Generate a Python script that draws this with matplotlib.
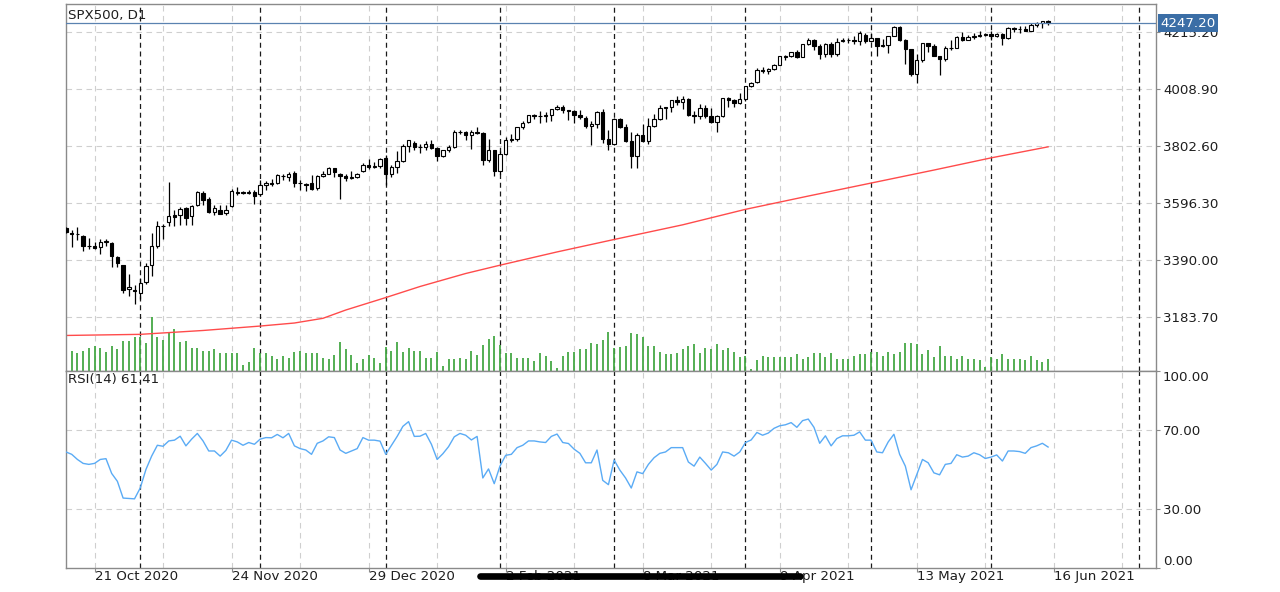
import numpy as np
import matplotlib
matplotlib.use("Agg")
import matplotlib.pyplot as plt
from matplotlib.lines import Line2D
from matplotlib.transforms import blended_transform_factory

# SPX500 daily bars, 14 Oct 2020 .. 15 Jun 2021 (broker feed, holidays included)
opens = [
    3506, 3487, 3486, 3479, 3441, 3441, 3438, 3457, 3453, 3402,
    3374, 3286, 3282, 3270, 3310, 3371, 3441, 3512, 3527, 3552,
    3555, 3579, 3549, 3588, 3633, 3612, 3566, 3570, 3562, 3586,
    3638, 3635, 3632, 3636, 3628, 3663, 3669, 3670, 3694, 3690,
    3705, 3668, 3666, 3670, 3650, 3695, 3702, 3722, 3702, 3695,
    3688, 3690, 3712, 3735, 3728, 3732, 3758, 3700, 3727, 3748,
    3804, 3815, 3800, 3801, 3810, 3796, 3768, 3787, 3800, 3852,
    3853, 3842, 3855, 3850, 3751, 3787, 3714, 3774, 3826, 3830,
    3872, 3890, 3916, 3911, 3910, 3916, 3935, 3945, 3933, 3931,
    3914, 3905, 3877, 3881, 3925, 3829, 3811, 3902, 3870, 3820,
    3768, 3842, 3821, 3875, 3899, 3939, 3943, 3969, 3963, 3974,
    3915, 3913, 3941, 3911, 3889, 3910, 3975, 3971, 3959, 3973,
    4020, 4034, 4078, 4074, 4080, 4097, 4126, 4128, 4142, 4125,
    4170, 4185, 4163, 4135, 4173, 4135, 4182, 4188, 4187, 4183,
    4205, 4181, 4193, 4165, 4168, 4202, 4233, 4188, 4152, 4063,
    4113, 4174, 4163, 4128, 4116, 4159, 4158, 4197, 4188, 4196,
    4201, 4204, 4207, 4202, 4208, 4193, 4230, 4227, 4227, 4220,
    4239, 4248, 4255,
]
highs = [
    3510, 3501, 3510, 3481, 3471, 3455, 3465, 3467, 3455, 3405,
    3374, 3342, 3302, 3326, 3380, 3489, 3531, 3522, 3673, 3573,
    3583, 3582, 3590, 3640, 3640, 3620, 3591, 3590, 3588, 3648,
    3655, 3639, 3645, 3644, 3679, 3675, 3682, 3701, 3702, 3708,
    3713, 3680, 3670, 3698, 3697, 3712, 3726, 3725, 3705, 3700,
    3712, 3704, 3740, 3757, 3744, 3760, 3770, 3735, 3784, 3811,
    3826, 3820, 3811, 3820, 3823, 3800, 3790, 3805, 3860, 3862,
    3857, 3860, 3870, 3852, 3830, 3788, 3784, 3836, 3848, 3873,
    3894, 3916, 3918, 3931, 3925, 3937, 3950, 3950, 3934, 3932,
    3932, 3910, 3895, 3928, 3935, 3862, 3905, 3906, 3882, 3853,
    3851, 3882, 3903, 3918, 3950, 3945, 3970, 3982, 3983, 3978,
    3930, 3956, 3950, 3942, 3915, 3978, 3981, 3973, 3995, 4021,
    4035, 4084, 4087, 4084, 4099, 4130, 4131, 4142, 4151, 4173,
    4192, 4190, 4170, 4175, 4180, 4195, 4194, 4193, 4201, 4218,
    4212, 4210, 4195, 4189, 4202, 4238, 4237, 4190, 4155, 4135,
    4176, 4177, 4172, 4130, 4164, 4188, 4200, 4214, 4203, 4213,
    4219, 4210, 4218, 4213, 4210, 4233, 4232, 4236, 4238, 4249,
    4250, 4256, 4258,
]
lows = [
    3489, 3438, 3462, 3422, 3429, 3431, 3414, 3440, 3366, 3366,
    3270, 3260, 3233, 3250, 3305, 3332, 3435, 3465, 3513, 3513,
    3519, 3519, 3519, 3586, 3591, 3560, 3555, 3558, 3555, 3584,
    3626, 3628, 3628, 3592, 3622, 3645, 3660, 3665, 3680, 3675,
    3655, 3645, 3640, 3645, 3645, 3690, 3700, 3690, 3610, 3676,
    3685, 3688, 3710, 3720, 3725, 3725, 3663, 3690, 3705, 3745,
    3783, 3790, 3776, 3790, 3792, 3750, 3765, 3780, 3796, 3845,
    3825, 3792, 3845, 3734, 3745, 3694, 3700, 3772, 3818, 3822,
    3866, 3885, 3900, 3885, 3890, 3895, 3932, 3923, 3898, 3885,
    3900, 3867, 3805, 3868, 3815, 3789, 3808, 3868, 3818, 3723,
    3724, 3818, 3812, 3870, 3897, 3900, 3925, 3950, 3935, 3913,
    3885, 3900, 3905, 3885, 3853, 3907, 3943, 3943, 3955, 3965,
    4018, 4030, 4068, 4064, 4077, 4095, 4114, 4124, 4120, 4124,
    4168, 4150, 4118, 4125, 4126, 4130, 4178, 4176, 4172, 4168,
    4175, 4178, 4128, 4160, 4141, 4200, 4183, 4100, 4056, 4030,
    4108, 4142, 4127, 4060, 4112, 4150, 4156, 4183, 4186, 4190,
    4197, 4199, 4187, 4196, 4167, 4190, 4215, 4210, 4218, 4218,
    4235, 4230, 4240,
]
closes = [
    3491, 3486, 3485, 3441, 3440, 3436, 3456, 3459, 3404, 3380,
    3284, 3292, 3278, 3308, 3368, 3443, 3515, 3513, 3551, 3548,
    3576, 3543, 3585, 3636, 3609, 3563, 3578, 3558, 3572, 3640,
    3633, 3632, 3638, 3624, 3663, 3669, 3667, 3699, 3693, 3702,
    3670, 3668, 3663, 3648, 3695, 3701, 3722, 3709, 3695, 3687,
    3690, 3703, 3735, 3727, 3732, 3756, 3701, 3727, 3748, 3804,
    3825, 3800, 3801, 3810, 3796, 3768, 3787, 3799, 3852, 3853,
    3841, 3855, 3850, 3751, 3787, 3714, 3774, 3826, 3830, 3872,
    3887, 3916, 3911, 3910, 3916, 3935, 3945, 3933, 3931, 3914,
    3907, 3877, 3881, 3925, 3829, 3811, 3902, 3870, 3820, 3768,
    3842, 3821, 3875, 3899, 3939, 3943, 3969, 3963, 3974, 3915,
    3913, 3941, 3911, 3889, 3910, 3975, 3971, 3959, 3973, 4020,
    4031, 4078, 4074, 4080, 4097, 4129, 4128, 4142, 4125, 4170,
    4185, 4163, 4135, 4173, 4135, 4180, 4188, 4187, 4183, 4211,
    4181, 4193, 4165, 4168, 4202, 4233, 4188, 4152, 4063, 4113,
    4174, 4163, 4128, 4116, 4159, 4156, 4197, 4188, 4196, 4201,
    4204, 4207, 4202, 4208, 4193, 4230, 4227, 4227, 4220, 4239,
    4248, 4255, 4247.2,
]
# tick volume (relative units)
volume = [
    60, 61, 53, 61, 69, 75, 70, 57, 75, 66,
    91, 91, 103, 101, 83, 161, 101, 93, 113, 125,
    87, 91, 70, 70, 61, 61, 65, 53, 53, 53,
    53, 18, 27, 70, 53, 53, 44, 36, 44, 40,
    58, 61, 53, 53, 53, 38, 36, 49, 87, 65,
    49, 23, 36, 49, 40, 23, 73, 61, 87, 57,
    70, 61, 61, 40, 40, 57, 14, 36, 36, 40,
    36, 61, 49, 79, 95, 105, 79, 53, 53, 40,
    40, 40, 31, 53, 44, 31, 10, 44, 58, 58,
    66, 66, 84, 80, 92, 118, 70, 72, 76, 114,
    110, 101, 76, 76, 58, 50, 50, 54, 66, 76,
    80, 54, 70, 66, 80, 62, 70, 58, 41, 45,
    6, 32, 46, 41, 41, 41, 41, 41, 50, 37,
    41, 54, 54, 41, 54, 37, 37, 37, 46, 50,
    50, 58, 58, 46, 58, 50, 58, 84, 84, 80,
    50, 62, 41, 76, 45, 45, 37, 45, 37, 37,
    32, 11, 41, 37, 50, 37, 37, 37, 32, 45,
    32, 28, 37,
]
rsi = [
    58.9, 57.7, 55.1, 53.1, 52.6, 53.1, 55.1, 55.5, 48.0, 44.0,
    35.5, 35.3, 35.1, 40.6, 50.0, 56.8, 62.3, 61.8, 64.5, 64.9,
    66.9, 62.0, 65.4, 68.3, 64.5, 59.4, 59.4, 56.8, 59.7, 64.9,
    64.0, 62.3, 63.7, 62.8, 65.4, 66.2, 66.1, 67.8, 66.1, 68.3,
    62.0, 60.6, 59.9, 57.7, 63.3, 64.5, 66.6, 66.2, 59.9, 58.2,
    59.4, 60.6, 66.2, 64.9, 64.9, 64.4, 57.7, 62.3, 66.8, 71.9,
    74.3, 66.8, 66.9, 68.3, 62.8, 55.1, 58.0, 61.6, 66.6, 68.3,
    67.4, 65.0, 66.8, 45.7, 50.3, 42.8, 51.7, 57.2, 57.7, 61.1,
    62.3, 64.5, 64.5, 64.0, 63.7, 66.8, 68.0, 63.7, 63.2, 60.3,
    58.2, 53.4, 53.4, 59.9, 44.5, 42.3, 54.8, 49.7, 45.7, 40.6,
    48.8, 47.9, 52.6, 56.0, 58.2, 58.9, 61.1, 61.1, 61.1, 53.8,
    51.7, 56.3, 53.1, 49.7, 52.6, 58.9, 58.5, 56.8, 58.9, 63.7,
    65.0, 68.8, 67.4, 68.5, 70.9, 72.2, 72.7, 73.8, 71.4, 74.8,
    75.6, 71.4, 63.3, 67.1, 62.0, 65.7, 67.1, 67.1, 67.4, 69.1,
    64.9, 64.9, 58.9, 58.5, 64.0, 67.9, 57.7, 51.7, 39.7, 47.4,
    55.1, 53.4, 48.3, 47.3, 52.6, 53.1, 57.5, 56.3, 56.8, 58.5,
    57.5, 55.6, 56.3, 57.4, 54.3, 59.4, 59.4, 59.1, 58.2, 61.1,
    62.0, 63.3, 61.41,
]
# moving average (red line), read at these bar numbers
ma_bar = [0, 13, 24, 34, 40, 45, 49, 56, 62, 70, 76, 86, 96, 108, 119, 130, 141, 152, 162, 172]
ma_val = [3118, 3122, 3136, 3152, 3163, 3180, 3210, 3255, 3295, 3342, 3372, 3420, 3465, 3518,
          3574, 3622, 3669, 3716, 3760, 3800]

price_ticks = [3183.70, 3390.00, 3596.30, 3802.60, 4008.90, 4215.20]
last_price = 4247.20
rsi_last = 61.41
date_bars = [5, 29, 53, 77, 101, 125, 149, 173]
date_labels = ["21 Oct 2020", "24 Nov 2020", "29 Dec 2020", "2 Feb 2021",
               "8 Mar 2021", "9 Apr 2021", "13 May 2021", "16 Jun 2021"]
grid_bars = list(range(5, 190, 12))
month_starts = [13, 34, 56, 76, 96, 119, 141, 162, 188]

W, H = 1280, 592
left, right = 66, 1156
main_top, split, rsi_bot = 4, 371, 568

fig = plt.figure(figsize=(W / 100, H / 100), dpi=100)
ax = fig.add_axes([left / W, 1 - split / H, (right - left) / W, (split - main_top) / H])
ax_rsi = fig.add_axes([left / W, 1 - rsi_bot / H, (right - left) / W, (rsi_bot - split) / H],
                      sharex=ax)

txt = "#1e1e1e"
frame = "#8a8a8a"
grid_c = "#cfcfcf"
fs = 9.6

bars = np.arange(len(closes))
o = np.array(opens, dtype=float)
c = np.array(closes, dtype=float)

for a in (ax, ax_rsi):
    for gb in grid_bars:
        a.axvline(gb, color=grid_c, lw=0.8, ls=(0, (5, 4)), zorder=0)
    for ms in month_starts:
        a.axvline(ms, color="#1a1a1a", lw=0.9, ls=(0, (4, 3)), zorder=1)
    for s in a.spines.values():
        s.set_color(frame)
        s.set_linewidth(1.0)

for pt in price_ticks:
    ax.axhline(pt, color=grid_c, lw=0.8, ls=(0, (5, 4)), zorder=0)
for lv in (30, 70):
    ax_rsi.axhline(lv, color=grid_c, lw=0.8, ls=(0, (5, 4)), zorder=0)

# volume at the foot of the price panel
ax.vlines(bars, 0, np.array(volume) / 1101.0, transform=ax.get_xaxis_transform(),
          color="#45a845", lw=1.3, zorder=1)

# moving average
ax.plot(ma_bar, ma_val, color="#ff4b4b", lw=1.0, zorder=2)

# candles
ax.vlines(bars, lows, highs, color="black", lw=0.9, zorder=3)
up = c >= o
ax.bar(bars, c - o, bottom=o, width=0.6, color=np.where(up, "white", "black"),
       edgecolor="black", linewidth=0.8, zorder=4)

ax.axhline(last_price, color="#5a82b0", lw=0.9, zorder=5)

ax.set_xlim(0.0, 190.9)
ax.set_ylim(2989.5, 4316.4)
ax.yaxis.tick_right()
ax.set_yticks(price_ticks, [f"{p:.2f}" for p in price_ticks])
ax.tick_params(axis="y", length=3, color=frame, labelsize=fs, labelcolor=txt, pad=2)
ax.tick_params(axis="x", bottom=False, labelbottom=False)

trans = blended_transform_factory(ax.transAxes, ax.transData)
ax.text(1.0 + 4 / (right - left), last_price, f"{last_price:.2f}", transform=trans,
        ha="left", va="center", color="white", fontsize=fs, zorder=6,
        bbox=dict(boxstyle="square,pad=0.18", fc="#3b6ea6", ec="none"))
ax.text(2 / (right - left), 1 - 11 / (split - main_top), "SPX500, D1", transform=ax.transAxes,
        ha="left", va="center", color=txt, fontsize=fs)

# RSI panel
ax_rsi.plot(bars, rsi, color="#5aabf5", lw=1.0, zorder=3)
ax_rsi.set_ylim(0, 100)
ax_rsi.yaxis.tick_right()
ax_rsi.set_yticks([0, 30, 70, 100], ["0.00", "30.00", "70.00", "100.00"])
ax_rsi.tick_params(axis="y", length=3, color=frame, labelsize=fs, labelcolor=txt, pad=2)
ylabs = ax_rsi.get_yticklabels()
ylabs[0].set_va("bottom")
ylabs[-1].set_va("top")
ax_rsi.text(2 / (right - left), 1 - 9 / (rsi_bot - split), f"RSI(14) {rsi_last:.2f}",
            transform=ax_rsi.transAxes, ha="left", va="center", color=txt, fontsize=fs)

ax_rsi.set_xticks(date_bars, date_labels)
ax_rsi.tick_params(axis="x", length=3, color=frame, labelsize=fs, labelcolor=txt, pad=-1.5)
for lab in ax_rsi.get_xticklabels():
    lab.set_ha("left")

# scroll indicator over the date row
fig.add_artist(Line2D([480 / W, 800 / W], [1 - 575.7 / H] * 2, transform=fig.transFigure,
                      color="black", lw=4.8, solid_capstyle="round"))

fig.savefig("out.png", dpi=100, facecolor="white")
